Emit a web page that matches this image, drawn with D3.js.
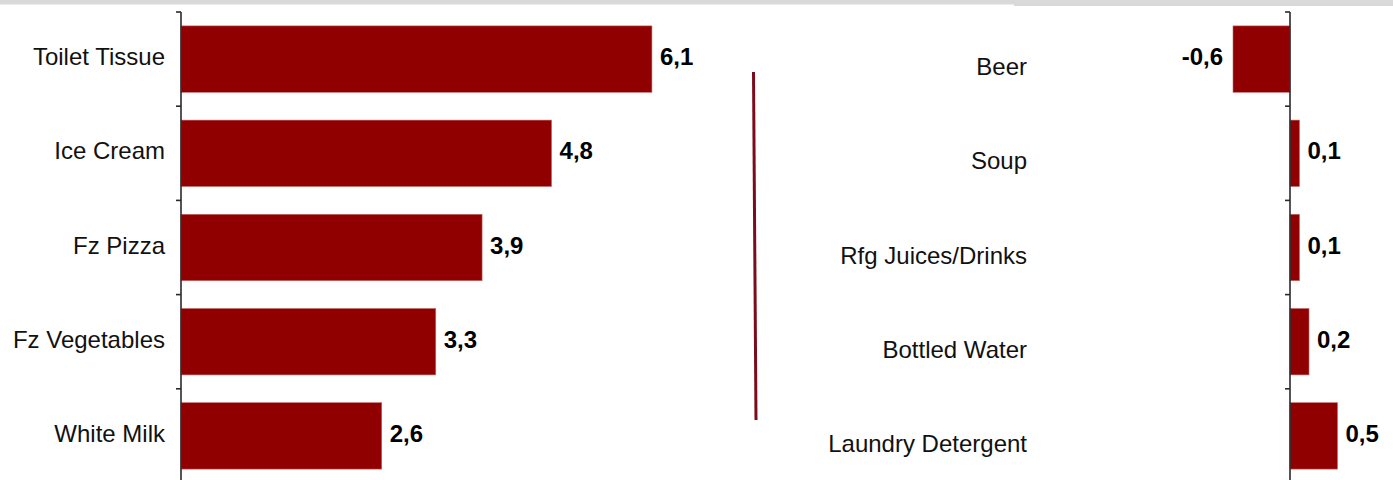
<!DOCTYPE html>
<html>
<head>
<meta charset="utf-8">
<script src="https://cdn.jsdelivr.net/npm/d3@7"></script>
<style>
  html, body { margin: 0; padding: 0; background: #fff; }
  svg { display: block; }
  text { font-family: "Liberation Sans", Arial, Helvetica, sans-serif; }
</style>
</head>
<body>
<svg id="chart" width="1393" height="480"></svg>
<script>
// Category growth, left group (top gainers)
const leftCategories = ["Toilet Tissue", "Ice Cream", "Fz Pizza", "Fz Vegetables", "White Milk"];
const leftValues = [6.1, 4.8, 3.9, 3.3, 2.6];

// Category growth, right group
const rightCategories = ["Beer", "Soup", "Rfg Juices/Drinks", "Bottled Water", "Laundry Detergent"];
const rightValues = [-0.6, 0.1, 0.1, 0.2, 0.5];

// decimal comma and a plain hyphen for negatives
const fmt = v => d3.format(".1f")(v).replace("\u2212", "-").replace(".", ",");

const W = 1393, H = 480;
const svg = d3.select("#chart");
const barColor = "#900000";

// light band along the top edge
svg.append("rect").attr("x", 0).attr("y", 0).attr("width", 1014).attr("height", 4.5).attr("fill", "#d9d9d9");
svg.append("rect").attr("x", 1014).attr("y", 0).attr("width", W - 1014).attr("height", 6).attr("fill", "#d9d9d9");

function panel(cats, vals, opts) {
  const y = d3.scaleBand()
    .domain(cats)
    .range([12, 483])
    .paddingInner(0.295)
    .paddingOuter(0.1475);

  const x = d3.scaleLinear().domain(opts.domain).range(opts.range);
  const g = svg.append("g");

  // bars
  g.selectAll("rect.bar")
    .data(cats)
    .join("rect")
    .attr("class", "bar")
    .attr("x", (d, i) => x(Math.min(0, vals[i])))
    .attr("y", d => y(d))
    .attr("width", (d, i) => Math.abs(x(vals[i]) - x(0)))
    .attr("height", y.bandwidth())
    .attr("fill", barColor)
    .attr("stroke", "#c46a6a")
    .attr("stroke-width", 0.6);

  // category axis with ticks between bands
  const x0 = x(0);
  g.append("line")
    .attr("x1", x0).attr("x2", x0)
    .attr("y1", 12).attr("y2", H)
    .attr("stroke", "#2a2a2a").attr("stroke-width", 1.6);
  const bounds = cats.map(c => y(c) - y.step() * y.paddingInner() / 2);
  bounds[0] = 12;
  g.selectAll("line.tick")
    .data(bounds)
    .join("line")
    .attr("class", "tick")
    .attr("x1", x0 - 5).attr("x2", x0)
    .attr("y1", d => d).attr("y2", d => d)
    .attr("stroke", "#2a2a2a").attr("stroke-width", 1.6);

  // category labels
  g.selectAll("text.cat")
    .data(cats)
    .join("text")
    .attr("class", "cat")
    .attr("x", opts.labelX)
    .attr("y", d => y(d) + y.bandwidth() / 2 + opts.labelDy)
    .attr("text-anchor", "end")
    .attr("font-size", 24)
    .attr("fill", "#111")
    .text(d => d);

  // value labels
  g.selectAll("text.val")
    .data(cats)
    .join("text")
    .attr("class", "val")
    .attr("x", (d, i) => vals[i] < 0 ? x(vals[i]) - 10 : x(vals[i]) + 8)
    .attr("y", d => y(d) + y.bandwidth() / 2 + 6)
    .attr("text-anchor", (d, i) => vals[i] < 0 ? "end" : "start")
    .attr("font-size", 24)
    .attr("font-weight", "bold")
    .attr("fill", "#000")
    .text((d, i) => fmt(vals[i]));
}

panel(leftCategories, leftValues, {
  domain: [0, 7], range: [181, 181 + 7 * 77.2], labelX: 165, labelDy: 6
});
panel(rightCategories, rightValues, {
  domain: [-1, 1], range: [1195, 1385], labelX: 1027, labelDy: 16
});

// divider between the two groups
svg.append("line")
  .attr("x1", 753.5).attr("y1", 72)
  .attr("x2", 756).attr("y2", 420)
  .attr("stroke", "#7b0c1c").attr("stroke-width", 3);
</script>
</body>
</html>
